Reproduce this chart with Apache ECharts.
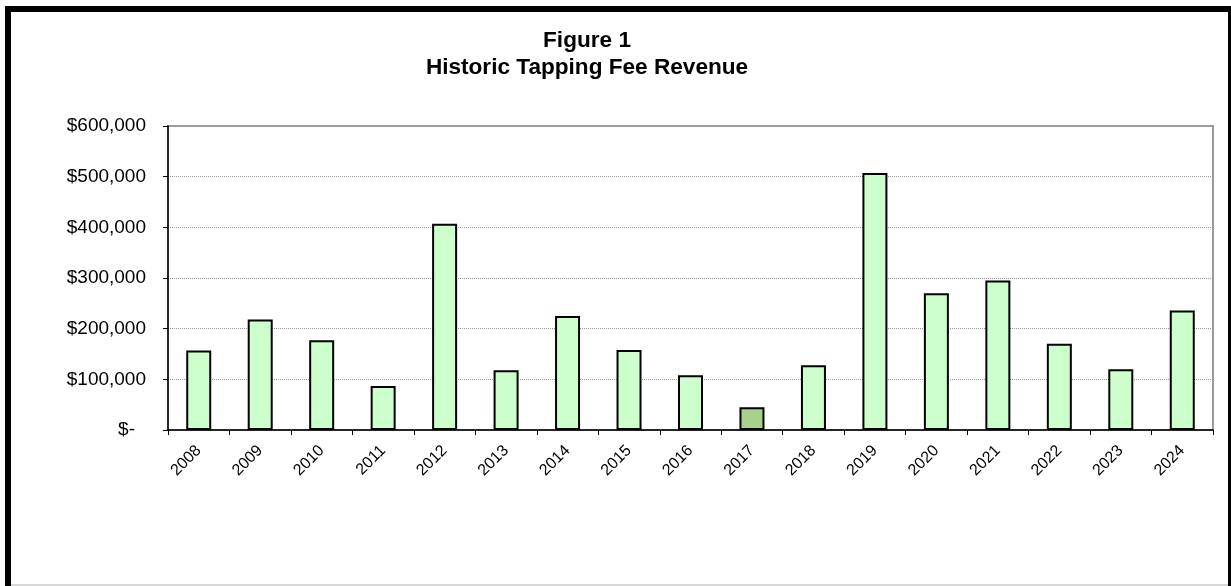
<!DOCTYPE html>
<html>
<head>
<meta charset="utf-8">
<script src="https://cdn.jsdelivr.net/npm/echarts@6/dist/echarts.min.js"></script>
<style>
  html, body { margin: 0; padding: 0; background: #fff; }
  #chart { width: 1231px; height: 586px; }
</style>
</head>
<body>
<div id="chart"></div>
<script>
// years on the x axis
var years = ['2008', '2009', '2010', '2011', '2012', '2013', '2014', '2015', '2016',
             '2017', '2018', '2019', '2020', '2021', '2022', '2023', '2024'];
// tapping fee revenue, dollars
var revenue = [157000, 218000, 177000, 87000, 407000, 118000, 225000, 158000, 108000,
               45000, 128000, 507000, 270000, 295000, 170000, 120000, 236000];
// the one year drawn in a darker green
var highlightYear = '2017';

var myChart = echarts.init(document.getElementById('chart'));

var barData = revenue.map(function (v, i) {
    var item = { value: v };
    if (years[i] === highlightYear) {
        item.itemStyle = { color: '#a9d18e' };
    }
    return item;
});

var option = {
    backgroundColor: '#fff',
    animation: false,
    textStyle: { fontFamily: 'Liberation Sans, Arial, sans-serif' },
    title: {
        text: 'Figure 1\nHistoric Tapping Fee Revenue',
        left: 582,
        textAlign: 'center',
        top: 22,
        textStyle: {
            fontSize: 22.6,
            fontWeight: 'bold',
            color: '#000',
            lineHeight: 27,
            fontFamily: 'Liberation Sans, Arial, sans-serif'
        }
    },
    graphic: [
        // outer frame
        { type: 'rect', shape: { x: 5, y: 6, width: 1226, height: 6 }, style: { fill: '#000' } },
        { type: 'rect', shape: { x: 5, y: 6, width: 6, height: 580 }, style: { fill: '#000' } },
        { type: 'rect', shape: { x: 1228, y: 6, width: 3, height: 580 }, style: { fill: '#000' } },
        { type: 'rect', shape: { x: 11, y: 584, width: 1217, height: 2 }, style: { fill: '#d8d8d8' } }
    ],
    grid: {
        left: 168,
        top: 126,
        right: 18,
        bottom: 156,
        show: true,
        borderColor: '#9a9a9a',
        borderWidth: 2,
        containLabel: false
    },
    xAxis: {
        type: 'category',
        data: years,
        axisLine: { lineStyle: { color: '#000', width: 1.5 } },
        axisTick: { show: true, length: 5, lineStyle: { color: '#000' } },
        axisLabel: {
            rotate: 45,
            color: '#000',
            fontSize: 16,
            margin: 18
        }
    },
    yAxis: {
        type: 'value',
        min: 0,
        max: 600000,
        interval: 100000,
        axisLine: { show: true, lineStyle: { color: '#000', width: 1.5 } },
        axisTick: { show: true, length: 5, lineStyle: { color: '#000' } },
        splitLine: { lineStyle: { color: '#999', type: 'dotted', width: 1 } },
        axisLabel: {
            color: '#000',
            fontSize: 19,
            margin: 22,
            formatter: function (v) {
                if (v === 0) return '{z|$-}';
                return '$' + v.toLocaleString('en-US');
            },
            rich: {
                z: { fontSize: 19, color: '#000', padding: [0, 11, 0, 0] }
            }
        }
    },
    series: [{
        type: 'bar',
        data: barData,
        barWidth: 25,
        itemStyle: {
            color: '#ccffcc',
            borderColor: '#000',
            borderWidth: 2
        }
    }]
};

myChart.setOption(option);
</script>
</body>
</html>
